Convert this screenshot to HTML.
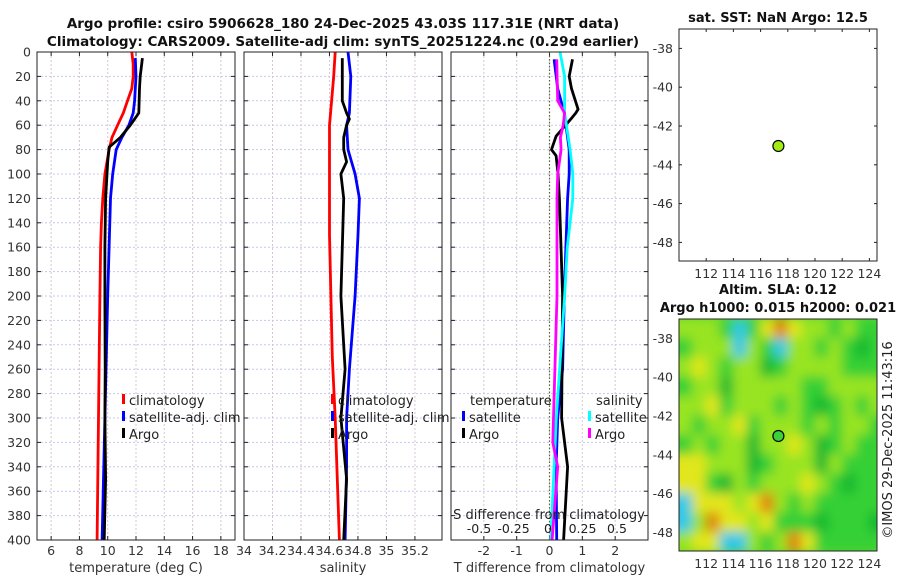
<!DOCTYPE html>
<html><head><meta charset="utf-8"><style>
body{margin:0;background:#fff;}
svg{display:block;font-family:"DejaVu Sans","Liberation Sans",sans-serif;}
</style></head><body>
<svg id="c" width="900" height="580" viewBox="0 0 900 580" xmlns="http://www.w3.org/2000/svg">
<defs>
<filter id="bl" filterUnits="userSpaceOnUse" x="660" y="300" width="240" height="270"><feGaussianBlur stdDeviation="5.5"/></filter>
<clipPath id="mapclip"><rect x="679" y="319" width="198" height="232"/></clipPath>
</defs>
<text x="343" y="28" text-anchor="middle" font-weight="bold" font-size="13.5" fill="#111">Argo profile: csiro 5906628_180 24-Dec-2025 43.03S 117.31E (NRT data)</text>
<text x="343" y="46" text-anchor="middle" font-weight="bold" font-size="13.5" fill="#111">Climatology: CARS2009. Satellite-adj clim: synTS_20251224.nc (0.29d earlier)</text>
<text x="778" y="22" text-anchor="middle" font-weight="bold" font-size="13" fill="#111">sat. SST: NaN Argo: 12.5</text>
<text x="778" y="294" text-anchor="middle" font-weight="bold" font-size="13" fill="#111">Altim. SLA: 0.12</text>
<text x="778" y="312" text-anchor="middle" font-weight="bold" font-size="13" fill="#111">Argo h1000: 0.015 h2000: 0.021</text>
<text transform="translate(892,440) rotate(-90)" text-anchor="middle" font-size="13" fill="#222">©IMOS 29-Dec-2025 11:43:16</text>
</svg>
<script>
// ---- data ----
const tempClimDepth=[0,10,20,30,40,50,60,70,80,90,100,120,140,160,200,250,300,350,400];
const tempClimVal=[11.7,11.8,11.8,11.7,11.4,11.1,10.7,10.3,10.1,9.95,9.8,9.65,9.55,9.5,9.45,9.4,9.35,9.3,9.25];
const tempSatDepth=[5,20,40,50,60,70,80,100,120,160,200,300,400];
const tempSatVal=[11.95,12.0,11.9,11.8,11.5,11.0,10.6,10.35,10.2,10.1,10.0,9.8,9.6];
const tempArgoDepth=[5,10,20,30,50,55,60,70,75,78,90,100,120,160,200,260,300,350,400];
const tempArgoVal=[12.45,12.4,12.3,12.25,12.2,11.9,11.6,10.9,10.4,10.1,10.0,9.95,9.85,9.8,9.8,9.82,9.8,9.85,9.75];
const salClimDepth=[0,20,60,150,250,300,400];
const salClimVal=[34.64,34.63,34.60,34.60,34.62,34.64,34.67];
const salSatDepth=[0,20,50,60,80,100,120,150,200,260,300,340,400];
const salSatVal=[34.73,34.75,34.74,34.72,34.73,34.78,34.81,34.8,34.78,34.74,34.72,34.72,34.71];
const salArgoDepth=[5,40,50,55,60,70,80,90,100,120,160,200,260,300,350,400];
const salArgoVal=[34.69,34.69,34.72,34.74,34.72,34.70,34.70,34.72,34.68,34.70,34.69,34.68,34.71,34.68,34.72,34.70];
const tdSatDepth=[6,30,50,70,80,100,120,160,200,260,300,340,400];
const tdSatVal=[0.14,0.25,0.45,0.55,0.6,0.6,0.55,0.5,0.45,0.4,0.25,0.2,0.22];
const tdArgoDepth=[6,20,30,47,50,55,69,80,85,100,120,160,200,300,340,400];
const tdArgoVal=[0.7,0.6,0.67,0.87,0.8,0.65,0.2,0.06,0.2,0.26,0.3,0.35,0.4,0.37,0.55,0.43];
const sdSatDepth=[0,20,50,80,100,120,160,200,300,400];
const sdSatVal=[0.087,0.12,0.12,0.16,0.18,0.18,0.14,0.12,0.06,0.02];
const sdArgoDepth=[6,40,50,60,70,80,100,120,200,300,320,340,400];
const sdArgoVal=[0.063,0.07,0.12,0.11,0.09,0.095,0.07,0.065,0.065,0.04,0.035,0.07,0.03];
const tempTicks=[6,8,10,12,14,16,18];
const salTicks=[34,34.2,34.4,34.6,34.8,35,35.2];
const tdTicks=[-2,-1,0,1,2];
const sdTicks=[-0.5,-0.25,0,0.25,0.5];
const sdTickLabels=["-0.5","-0.25","0","0.25","0.5"];
const depthTicks=[0,20,40,60,80,100,120,140,160,180,200,220,240,260,280,300,320,340,360,380,400];
const latTicks=[-38,-40,-42,-44,-46,-48];
const lonTicks=[112,114,116,118,120,122,124];
const argoLon=117.31, argoLat=-43.03;
const slaGrid=[
[1,1,1,0,-2,0,2,3,2,1,1,0,1,0,0],
[0,1,1,1,-2,1,0,-2,1,1,0,1,0,-1,0],
[1,2,1,0,1,1,-1,0,1,1,1,1,0,0,0],
[0,1,1,-1,1,1,1,1,1,0,0,1,1,1,1],
[1,1,2,0,1,1,1,0,1,0,-1,0,1,0,1],
[1,0,1,1,2,0,1,1,1,0,1,0,1,1,0],
[0,1,0,1,1,-1,1,1,2,1,-1,0,1,0,0],
[2,2,1,1,1,-1,0,1,1,1,-1,1,0,0,0],
[2,2,0,-1,1,0,1,1,1,2,1,0,-1,0,0],
[-2,2,2,2,1,2,3,1,0,1,0,0,0,0,0],
[-2,1,3,2,2,1,2,0,0,0,-1,0,0,0,-1],
[1,2,2,-2,-2,1,0,1,3,2,0,0,0,0,0]];
// ---- drawing ----
const S=document.getElementById('c');
const NS='http://www.w3.org/2000/svg';
function mk(tag,at,txt){const e=document.createElementNS(NS,tag);for(const k in at)e.setAttribute(k,at[k]);if(txt!==undefined)e.textContent=txt;S.appendChild(e);return e;}
const PT=52,PB=540;
const yD=d=>PT+(d-0)*(PB-PT)/400;
function axX(x0,x1,v0,v1){return v=>x0+(v-v0)*(x1-x0)/(v1-v0);}
const panels=[
 {x0:37,x1:235,v0:5,v1:19,ticks:tempTicks,lbl:tempTicks.map(String),name:'temperature-panel',xl:'temperature (deg C)'},
 {x0:244,x1:442,v0:34,v1:35.39,ticks:salTicks,lbl:salTicks.map(String),name:'salinity-panel',xl:'salinity'},
 {x0:451,x1:648,v0:-3,v1:3,ticks:tdTicks,lbl:tdTicks.map(String),name:'difference-panel',xl:'T difference from climatology'}];
panels.forEach((p,i)=>{
 p.f=axX(p.x0,p.x1,p.v0,p.v1);
 let bg=mk('rect',{x:p.x0,y:PT,width:p.x1-p.x0,height:PB-PT,fill:'#fff'});
 
 
 depthTicks.forEach(d=>{
  let g=mk('line',{x1:p.x0,x2:p.x1,y1:yD(d),y2:yD(d),stroke:'#c4c8ee','stroke-dasharray':'2,2','stroke-width':1});
  
  
  mk('line',{x1:p.x0,x2:p.x0+4,y1:yD(d),y2:yD(d),stroke:'#222'});
  mk('line',{x1:p.x1-4,x2:p.x1,y1:yD(d),y2:yD(d),stroke:'#222'});
 });
 p.ticks.forEach((t,j)=>{
  const x=p.f(t);
  let g=mk('line',{x1:x,x2:x,y1:PT,y2:PB,stroke:'#d8c4d8','stroke-dasharray':'2,2'});
  
  
  mk('line',{x1:x,x2:x,y1:PB,y2:PB-4,stroke:'#222'});
  mk('line',{x1:x,x2:x,y1:PT,y2:PT+4,stroke:'#222'});
  let tl=mk('text',{x:x,y:555,'text-anchor':'middle','font-size':12.5,fill:'#333'},p.lbl[j]);
  
  
 });
 let xl=mk('text',{x:(p.x0+p.x1)/2,y:572,'text-anchor':'middle','font-size':13,fill:'#333'},p.xl);
 
 
});
depthTicks.forEach(d=>{
 let t=mk('text',{x:31,y:yD(d)+4.5,'text-anchor':'end','font-size':12.5,fill:'#333'},String(d));
 
 
});
function line(xs,ds,f,col,name,w){
 const pts=xs.map((v,i)=>f(v).toFixed(1)+','+yD(ds[i]).toFixed(1)).join(' ');
 const e=mk('polyline',{points:pts,fill:'none',stroke:col,'stroke-width':w||2.8,'stroke-linejoin':'round'});
 
 
}
const fT=panels[0].f,fS=panels[1].f,fD=panels[2].f;
const fSD=axX(548,617,0,0.5);
line(tempClimVal,tempClimDepth,fT,'#ff0000','temp-climatology-line');
line(tempSatVal,tempSatDepth,fT,'#0000ff','temp-satellite-line');
line(tempArgoVal,tempArgoDepth,fT,'#000','temp-argo-line');
line(salClimVal,salClimDepth,fS,'#ff0000','sal-climatology-line');
line(salSatVal,salSatDepth,fS,'#0000ff','sal-satellite-line');
line(salArgoVal,salArgoDepth,fS,'#000','sal-argo-line');
let z=mk('line',{x1:fD(0),x2:fD(0),y1:PT,y2:PB,stroke:'#556b2f','stroke-dasharray':'1.5,2','stroke-width':1.2});


line(tdSatVal,tdSatDepth,fD,'#0000ff','tdiff-satellite-line');
line(tdArgoVal,tdArgoDepth,fD,'#000','tdiff-argo-line');
line(sdSatVal,sdSatDepth,fSD,'#00ffff','sdiff-satellite-line');
line(sdArgoVal,sdArgoDepth,fSD,'#ff00ff','sdiff-argo-line');
let st=mk('text',{x:549,y:519,'text-anchor':'middle','font-size':13,fill:'#222'},'S difference from climatology');


sdTicks.forEach((t,j)=>{
 let e=mk('text',{x:fSD(t),y:533,'text-anchor':'middle','font-size':12.5,fill:'#222'},sdTickLabels[j]);
 
 
});
panels.forEach(p=>{
 let b=mk('rect',{x:p.x0,y:PT,width:p.x1-p.x0,height:PB-PT,fill:'none',stroke:'#222','stroke-width':1});
 
 
});
function leg(x,y,col,txt,name){
 mk('rect',{x:x,y:y-7,width:3,height:10,fill:col});
 let t=mk('text',{x:x+7,y:y+4,'font-size':13,fill:'#222'},txt);
 
 
}
[[122,'#ff0000','climatology'],[122,'#0000ff','satellite-adj. clim'],[122,'#000','Argo']].forEach((l,i)=>leg(l[0],401+i*17,l[1],l[2],'legend-temp-'+i));
[[331,'#ff0000','climatology'],[331,'#0000ff','satellite-adj. clim'],[331,'#000','Argo']].forEach((l,i)=>leg(l[0],401+i*17,l[1],l[2],'legend-sal-'+i));
let lt=mk('text',{x:470,y:405,'font-size':13,fill:'#222'},'temperature');
let ls=mk('text',{x:596,y:405,'font-size':13,fill:'#222'},'salinity');
leg(462,418,'#0000ff','satellite','legend-tdiff-satellite');
leg(462,435,'#000','Argo','legend-tdiff-argo');
leg(588,418,'#00ffff','satellite','legend-sdiff-satellite');
leg(588,435,'#ff00ff','Argo','legend-sdiff-argo');
const MX0=679,MX1=877;
const lonF=axX(MX0,MX1,110,124.56);
function mapAxes(top,name){
 const latF=v=>top+(-37-v)*19.4;
 const bot=top+232;
 latTicks.forEach(l=>{
  let t=mk('text',{x:673,y:latF(l)+4.5,'text-anchor':'end','font-size':12.5,fill:'#333'},String(l));
  
  
  mk('line',{x1:MX0,x2:MX0+3,y1:latF(l),y2:latF(l),stroke:'#222'});
  mk('line',{x1:MX1-3,x2:MX1,y1:latF(l),y2:latF(l),stroke:'#222'});
 });
 lonTicks.forEach(l=>{
  let t=mk('text',{x:lonF(l),y:bot+17,'text-anchor':'middle','font-size':12.5,fill:'#333'},String(l));
  
  
  mk('line',{x1:lonF(l),x2:lonF(l),y1:bot,y2:bot-3,stroke:'#222'});
  mk('line',{x1:lonF(l),x2:lonF(l),y1:top,y2:top+3,stroke:'#222'});
 });
 return latF;
}
const lat1=mapAxes(29,'sst-map');
const lat2=mapAxes(319,'sla-map');
const cmap={'-2':'#30c8e8','-1':'#0cb830','0':'#36d036','1':'#98e424','2':'#e2e61e','3':'#e08010'};
const hg=document.createElementNS(NS,'g');hg.setAttribute('clip-path','url(#mapclip)');S.appendChild(hg);


const bgm=document.createElementNS(NS,'rect');
bgm.setAttribute('x',MX0);bgm.setAttribute('y',319);bgm.setAttribute('width',198);bgm.setAttribute('height',232);bgm.setAttribute('fill','#60d830');
hg.appendChild(bgm);
const inner=document.createElementNS(NS,'g');inner.setAttribute('filter','url(#bl)');hg.appendChild(inner);
const cw=lonF(111)-lonF(110);
slaGrid.forEach((row,r)=>row.forEach((v,c)=>{
 const x=lonF(110+c),y=lat2(-37-r);
 const e=document.createElementNS(NS,'rect');
 e.setAttribute('x',(x-0.5).toFixed(1));e.setAttribute('y',(y-0.5).toFixed(1));
 e.setAttribute('width',(cw+1).toFixed(1));e.setAttribute('height','20.4');
 e.setAttribute('fill',cmap[String(v)]);
 
 
 inner.appendChild(e);
}));
// extend edge cells outward so blur doesn't fade at borders
slaGrid.forEach((row,r)=>{
 const y=lat2(-37-r);
 const e=document.createElementNS(NS,'rect');
 e.setAttribute('x',(lonF(110)-cw).toFixed(1));e.setAttribute('y',(y-0.5).toFixed(1));
 e.setAttribute('width',(cw+1).toFixed(1));e.setAttribute('height','20.4');
 e.setAttribute('fill',cmap[String(row[0])]);
 inner.appendChild(e);
});
S.appendChild(hg);
[[29,lat1,'sst-map'],[319,lat2,'sla-map']].forEach(m=>{
 let b=mk('rect',{x:MX0,y:m[0],width:MX1-MX0,height:232,fill:'none',stroke:'#222'});
 
 
 let d=mk('circle',{cx:lonF(argoLon),cy:m[1](argoLat),r:5.5,fill:m[2]==='sst-map'?'#a0ee10':'#3ad23a',stroke:'#000','stroke-width':1.2});
 
 
});
</script>
</body></html>
